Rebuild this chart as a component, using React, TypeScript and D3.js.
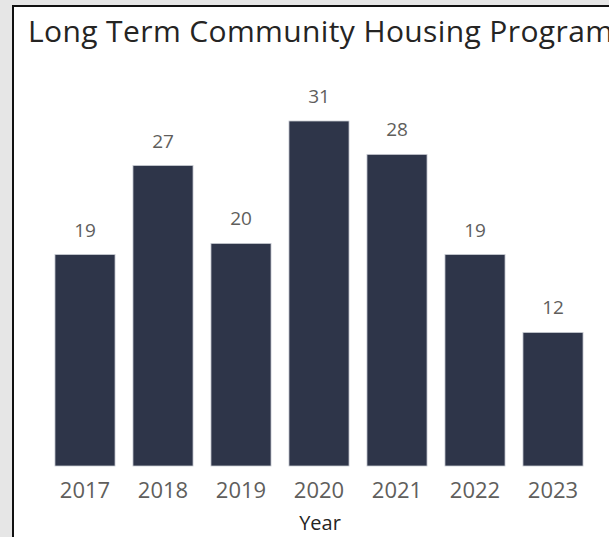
import React, { useEffect, useRef } from 'react';
import * as d3 from 'd3';

const years = ['2017', '2018', '2019', '2020', '2021', '2022', '2023'];
const counts = [19, 27, 20, 31, 28, 19, 12];

const W = 609;
const H = 537;
const FONT = "'Segoe UI', 'Open Sans', 'Noto Sans', sans-serif";

export default function App() {
  const svgRef = useRef<SVGSVGElement>(null);

  useEffect(() => {
    if (!svgRef.current) return;
    const svg = d3.select(svgRef.current);
    svg.selectAll('*').remove();

    // page background + panel
    svg.append('rect').attr('width', W).attr('height', H).attr('fill', '#e6e6e6');
    svg.append('rect')
      .attr('x', 13).attr('y', 6)
      .attr('width', W).attr('height', H)
      .attr('fill', '#ffffff')
      .attr('stroke', '#111111')
      .attr('stroke-width', 2);

    svg.append('text')
      .attr('x', 28).attr('y', 42)
      .attr('font-family', FONT)
      .attr('font-size', 30)
      .attr('fill', '#252423')
      .attr('textLength', 585)
      .attr('lengthAdjust', 'spacing')
      .text('Long Term Community Housing Program');

    const x = d3.scaleBand<string>()
      .domain(years)
      .range([46, 592])
      .paddingInner(0.23)
      .paddingOuter(0.115);

    const y = d3.scaleLinear()
      .domain([0, d3.max(counts) || 1])
      .range([466, 121]);

    const data = years.map((yr, i) => ({ yr, v: counts[i] }));

    svg.append('g')
      .selectAll('rect')
      .data(data)
      .join('rect')
      .attr('x', d => x(d.yr) || 0)
      .attr('y', d => y(d.v))
      .attr('width', x.bandwidth())
      .attr('height', d => y(0) - y(d.v))
      .attr('fill', '#2e3549')
      .attr('stroke', '#c9ccd3')
      .attr('stroke-width', 0.8);

    svg.append('g')
      .selectAll('text')
      .data(data)
      .join('text')
      .attr('x', d => (x(d.yr) || 0) + x.bandwidth() / 2)
      .attr('y', d => y(d.v) - 18)
      .attr('text-anchor', 'middle')
      .attr('font-family', FONT)
      .attr('font-size', 19)
      .attr('fill', '#605e5c')
      .text(d => d.v);

    // x axis
    const ax = svg.append('g')
      .attr('transform', `translate(0,${y(0)})`)
      .call(d3.axisBottom(x).tickSize(0).tickPadding(0));
    ax.select('.domain').remove();
    ax.selectAll('text')
      .attr('dy', null)
      .attr('y', 32)
      .attr('font-family', FONT)
      .attr('font-size', 22)
      .attr('fill', '#605e5c');

    svg.append('text')
      .attr('x', 320).attr('y', 530)
      .attr('text-anchor', 'middle')
      .attr('font-family', FONT)
      .attr('font-size', 20)
      .attr('fill', '#252423')
      .text('Year');
  }, []);

  return (
    <div style={{ position: 'fixed', left: 0, top: 0, width: W, height: H, overflow: 'hidden' }}>
      <svg ref={svgRef} width={W} height={H} viewBox={`0 0 ${W} ${H}`} style={{ display: 'block' }} />
    </div>
  );
}
